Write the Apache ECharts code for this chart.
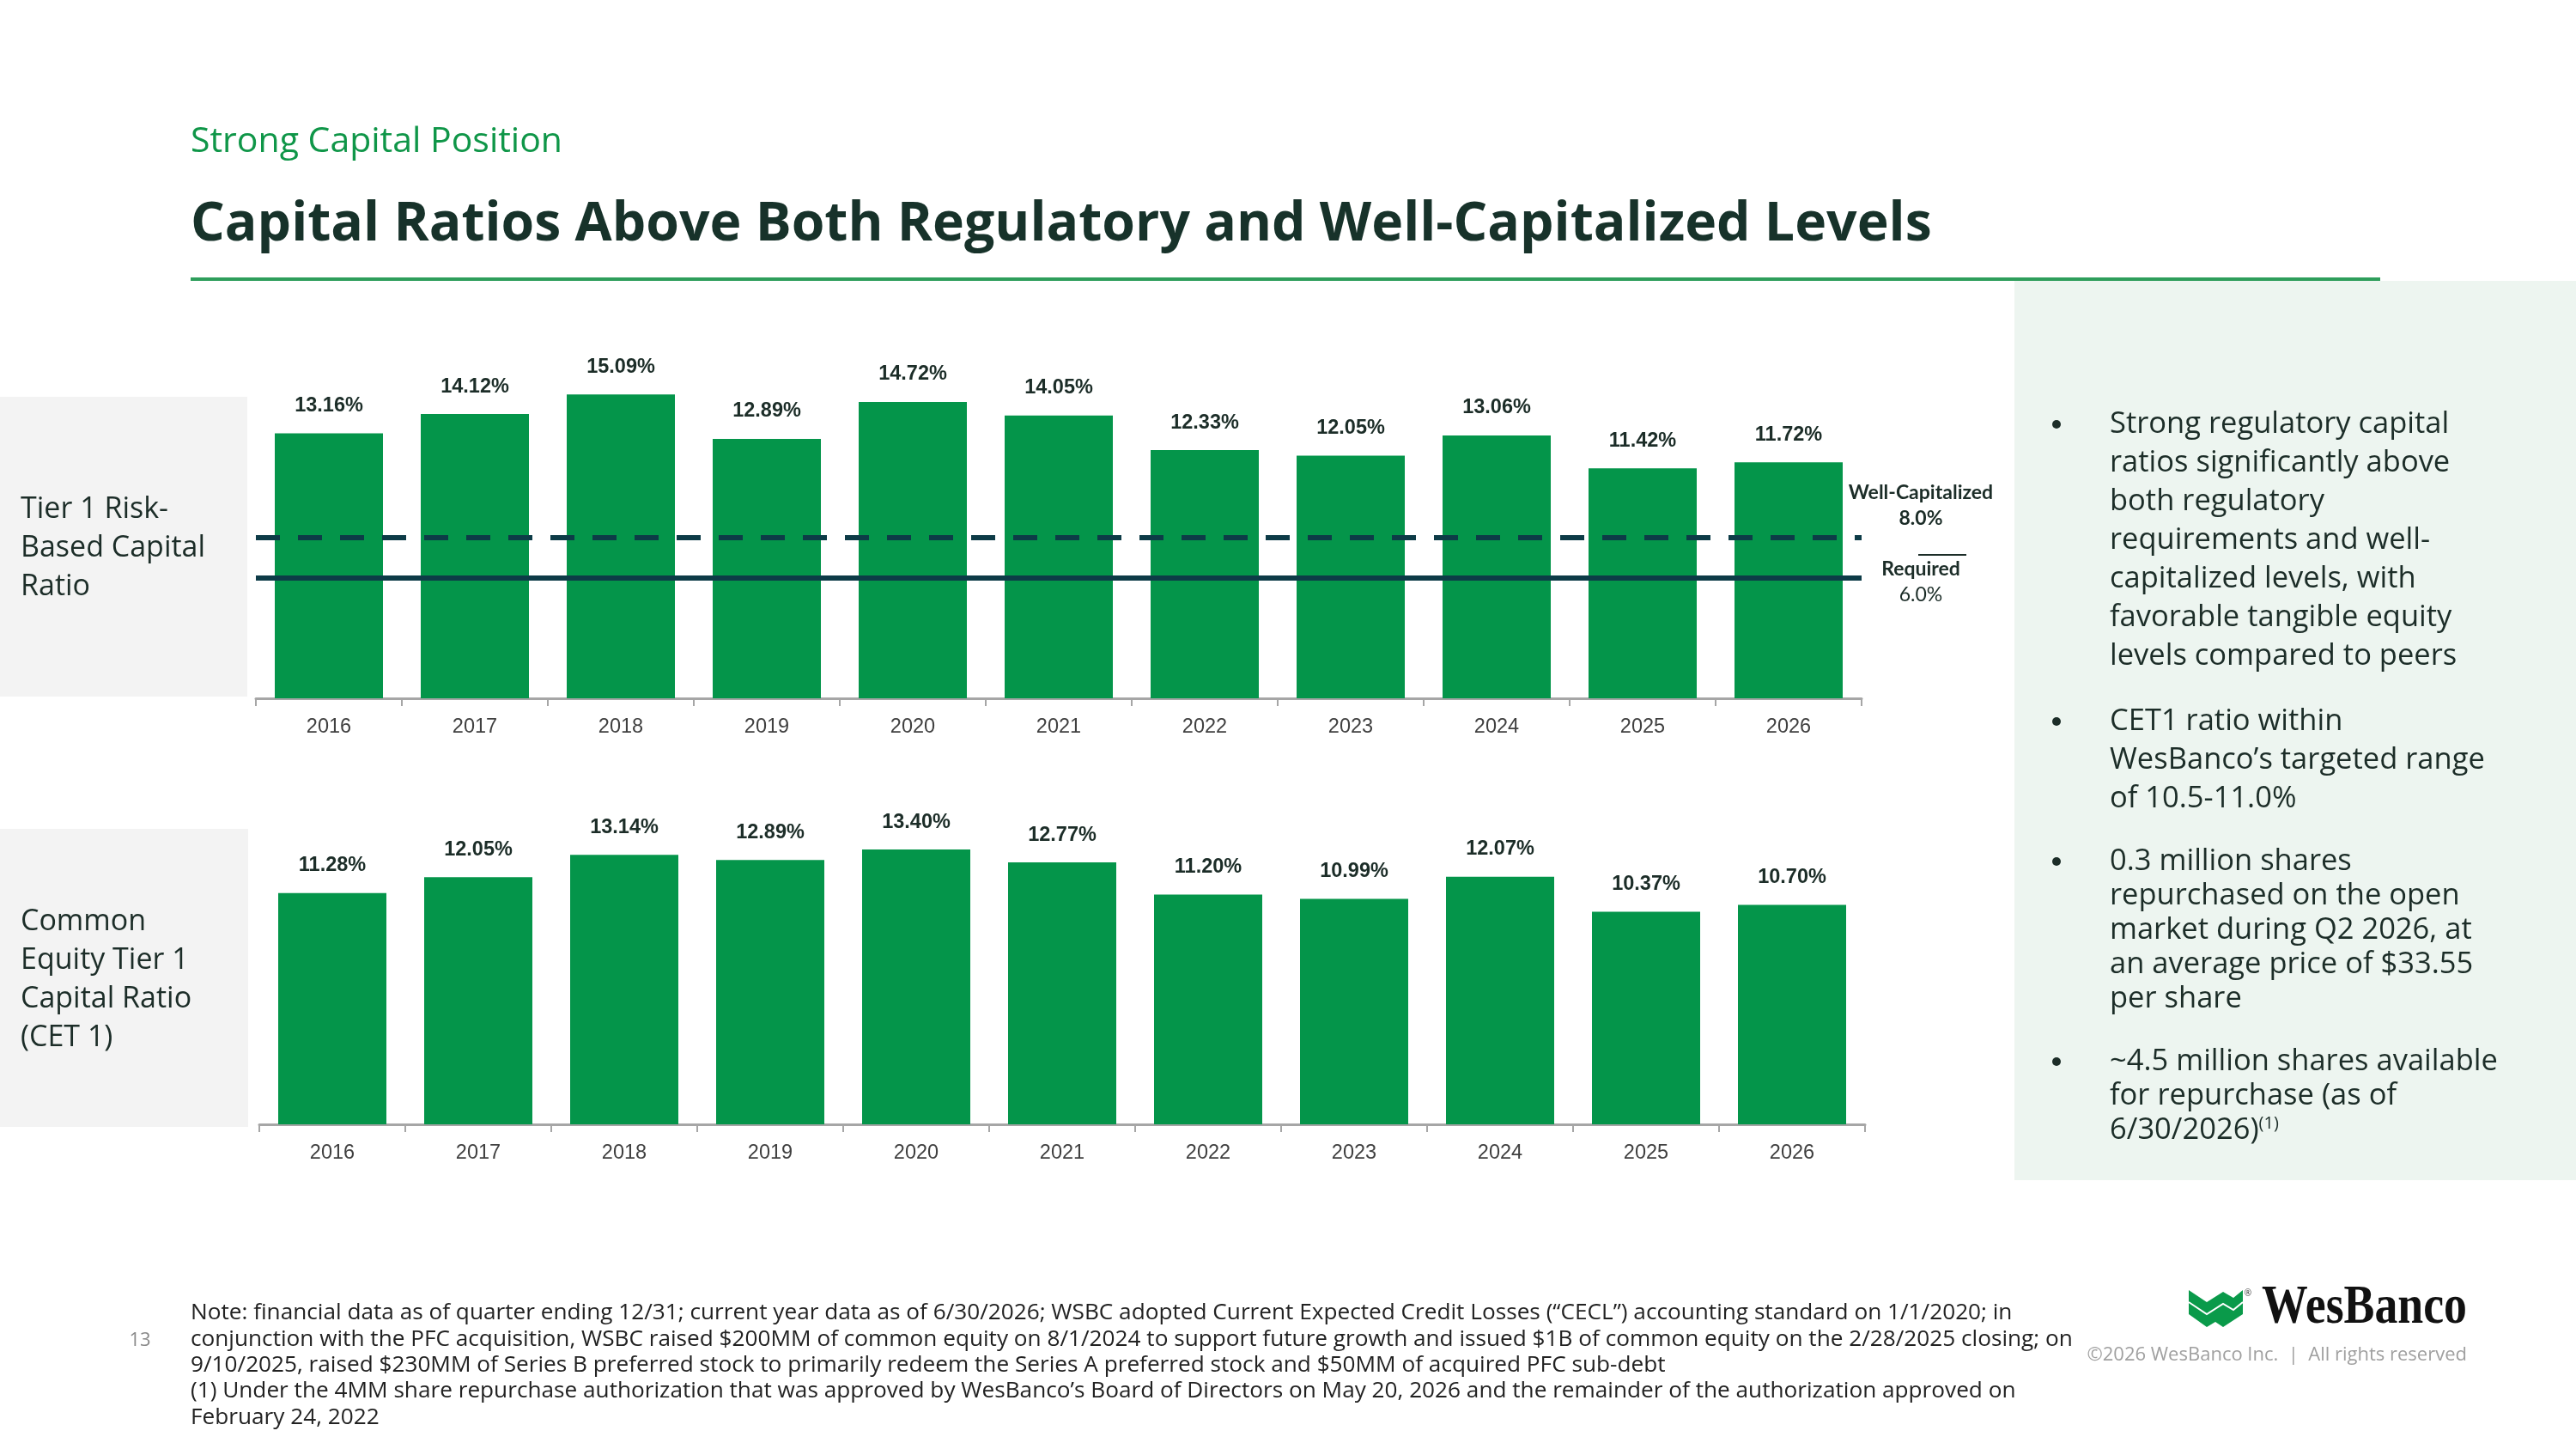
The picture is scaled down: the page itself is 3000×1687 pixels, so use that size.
<!DOCTYPE html>
<html>
<head>
<meta charset="utf-8">
<script src="https://cdn.jsdelivr.net/npm/echarts@6/dist/echarts.min.js"></script>
<style>
html,body{margin:0;padding:0;background:#fff;}
#c{width:3000px;height:1687px;}
</style>
</head>
<body>
<div id="c"></div>
<script>
// ---- data ----
const years = ['2016','2017','2018','2019','2020','2021','2022','2023','2024','2025','2026'];
const tier1Ratio = [13.16, 14.12, 15.09, 12.89, 14.72, 14.05, 12.33, 12.05, 13.06, 11.42, 11.72];
const cet1Ratio = [11.28, 12.05, 13.14, 12.89, 13.40, 12.77, 11.20, 10.99, 12.07, 10.37, 10.70];
const wellCapitalized = 8.0;
const required = 6.0;
const yMax = 16;

const subtitle = 'Strong Capital Position';
const title = 'Capital Ratios Above Both Regulatory and Well-Capitalized Levels';
const tier1Label = ['Tier 1 Risk-', 'Based Capital', 'Ratio'];
const cet1Label = ['Common', 'Equity Tier 1', 'Capital Ratio', '(CET 1)'];
const bullets = [
  ['Strong regulatory capital', 'ratios significantly above', 'both regulatory', 'requirements and well-', 'capitalized levels, with', 'favorable tangible equity', 'levels compared to peers'],
  ['CET1 ratio within', 'WesBanco\u2019s targeted range', 'of 10.5-11.0%'],
  ['0.3 million shares', 'repurchased on the open', 'market during Q2 2026, at', 'an average price of $33.55', 'per share'],
  ['~4.5 million shares available', 'for repurchase (as of', '6/30/2026)']
];
const notes = [
  'Note: financial data as of quarter ending 12/31; current year data as of 6/30/2026; WSBC adopted Current Expected Credit Losses (\u201cCECL\u201d) accounting standard on 1/1/2020; in',
  'conjunction with the PFC acquisition, WSBC raised $200MM of common equity on 8/1/2024 to support future growth and issued $1B of common equity on the 2/28/2025 closing; on',
  '9/10/2025, raised $230MM of Series B preferred stock to primarily redeem the Series A preferred stock and $50MM of acquired PFC sub-debt',
  '(1) Under the 4MM share repurchase authorization that was approved by WesBanco\u2019s Board of Directors on May 20, 2026 and the remainder of the authorization approved on',
  'February 24, 2022'
];

// ---- styling ----
const GREEN = '#04954a';
const NAVY = '#0d3b47';
const DARK = '#1c2d28';
const SANS = '"Open Sans", "Noto Sans", sans-serif';
const ARIAL = '"Liberation Sans", Arial, sans-serif';

const chart = echarts.init(document.getElementById('c'), null, {renderer: 'canvas', width: 3000, height: 1687});

const graphics = [];
// left gray label boxes
graphics.push({type:'rect', z:-1, shape:{x:0, y:462, width:288, height:349}, style:{fill:'#f3f3f3'}});
graphics.push({type:'rect', z:-1, shape:{x:0, y:965, width:289, height:347}, style:{fill:'#f3f3f3'}});
// right panel
graphics.push({type:'rect', z:-1, shape:{x:2346, y:327, width:654, height:1047}, style:{fill:'#edf5f0'}});
// header
graphics.push({type:'text', x:222, y:165, style:{text:subtitle, font:'41px ' + SANS, fill:'#0f9648', verticalAlign:'middle'}});
graphics.push({type:'text', x:222, y:262, style:{text:title, font:'bold 62.5px ' + SANS, fill:'#17322a', verticalAlign:'middle'}});
graphics.push({type:'rect', shape:{x:222, y:323, width:2550, height:4}, style:{fill:'#2e9e5b'}});

tier1Label.forEach((t, i) => graphics.push({type:'text', x:24, y:593 + i*45, style:{text:t, font:'34px ' + SANS, fill:DARK, verticalAlign:'middle'}}));
cet1Label.forEach((t, i) => graphics.push({type:'text', x:24, y:1073 + i*45, style:{text:t, font:'34px ' + SANS, fill:DARK, verticalAlign:'middle'}}));

// reference line labels
graphics.push({type:'text', x:2237, y:574, style:{text:'Well-Capitalized', font:'bold 23px Lato, ' + SANS, fill:DARK, align:'center', verticalAlign:'middle'}});
graphics.push({type:'text', x:2237, y:604, style:{text:wellCapitalized.toFixed(1) + '%', font:'bold 23px Lato, ' + SANS, fill:DARK, align:'center', verticalAlign:'middle'}});
graphics.push({type:'rect', shape:{x:2234, y:645, width:56, height:2}, style:{fill:DARK}});
graphics.push({type:'text', x:2237, y:663, style:{text:'Required', font:'bold 23px Lato, ' + SANS, fill:DARK, align:'center', verticalAlign:'middle'}});
graphics.push({type:'text', x:2237, y:693, style:{text:required.toFixed(1) + '%', font:'23px Lato, ' + SANS, fill:DARK, align:'center', verticalAlign:'middle'}});

// bullets
const bulletY = [494, 840, 1003, 1236];
const bulletGap = [45, 45, 40, 40];
bullets.forEach((lines, b) => {
  graphics.push({type:'circle', shape:{cx:2395, cy:bulletY[b], r:5}, style:{fill:DARK}});
  lines.forEach((t, i) => {
    const last = (b === 3 && i === lines.length - 1);
    graphics.push({type:'text', x:2457, y:bulletY[b] + i*bulletGap[b], style:{
      text: last ? t + '{s|(1)}' : t,
      font:'34.5px ' + SANS, fill:DARK, verticalAlign:'middle',
      rich: {s:{fontSize:20, fontFamily:SANS, fill:DARK, verticalAlign:'top', padding:[0,0,16,0]}}
    }});
  });
});

// notes
notes.forEach((t, i) => graphics.push({type:'text', x:222, y:1529 + i*30.3, style:{text:t, font:'26.2px ' + SANS, fill:'#222', verticalAlign:'middle'}}));
graphics.push({type:'text', x:163, y:1561, style:{text:'13', font:'22px ' + SANS, fill:'#8a8a8a', align:'center', verticalAlign:'middle'}});

// logo
graphics.push({type:'polygon', x:2549, y:1502, shape:{points:[[0,0],[21,14],[40,2],[52,9],[63,0],[63,28],[40,43],[31,37],[21,43],[0,28]]}, style:{fill:'#0a9a4a'}});
graphics.push({type:'polyline', x:2549, y:1502, shape:{points:[[0,14],[21,28],[40,16],[52,23],[63,14]]}, style:{stroke:'#fff', lineWidth:2, fill:null}});
graphics.push({type:'text', x:2618, y:1506, style:{text:'\u00ae', font:'10px ' + SANS, fill:'#333', align:'center', verticalAlign:'middle'}});
graphics.push({type:'text', x:2634, y:1523, scaleX:0.84, originX:0, originY:0, style:{text:'WesBanco', font:'bold 64px "Liberation Serif", "DejaVu Serif", serif', fill:'#111', verticalAlign:'middle'}});
graphics.push({type:'text', x:2873, y:1578, style:{text:'\u00a92026 WesBanco Inc.  |  All rights reserved', font:'22px ' + SANS, fill:'#a0a0a0', align:'right', verticalAlign:'middle'}});

function xAxisCfg(gi) {
  return {
    type:'category', gridIndex:gi, data:years,
    axisLine:{show:true, lineStyle:{color:'#a6a6a6', width:3}},
    axisTick:{show:true, length:9, lineStyle:{color:'#a6a6a6', width:2}},
    axisLabel:{fontSize:23.5, color:'#404040', margin:22, fontFamily:ARIAL}
  };
}
function yAxisCfg(gi) {
  return {type:'value', gridIndex:gi, min:0, max:yMax, show:false, splitLine:{show:false}};
}
const labelCfg = {
  show:true, position:'top', distance:20, fontSize:23.5, fontWeight:'bold', color:DARK, fontFamily:ARIAL,
  formatter: p => p.value.toFixed(2) + '%'
};

chart.setOption({
  animation:false,
  grid:[
    {left:298, top:438, width:1870, height:375},
    {left:302, top:927, width:1870, height:382}
  ],
  xAxis:[xAxisCfg(0), xAxisCfg(1)],
  yAxis:[yAxisCfg(0), yAxisCfg(1)],
  series:[
    {
      type:'bar', xAxisIndex:0, yAxisIndex:0, data:tier1Ratio, barWidth:126,
      itemStyle:{color:GREEN}, label:labelCfg,
      markLine:{
        silent:true, symbol:'none', label:{show:false},
        data:[
          {yAxis:wellCapitalized, lineStyle:{color:NAVY, width:6, type:[28,21]}},
          {yAxis:required, lineStyle:{color:NAVY, width:6, type:'solid'}}
        ]
      }
    },
    {
      type:'bar', xAxisIndex:1, yAxisIndex:1, data:cet1Ratio, barWidth:126,
      itemStyle:{color:GREEN}, label:labelCfg
    }
  ],
  graphic: graphics
});
</script>
</body>
</html>
